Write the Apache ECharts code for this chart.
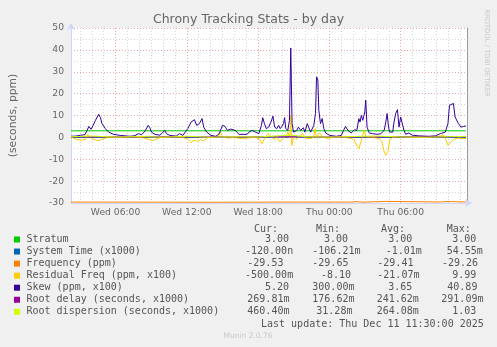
<!DOCTYPE html>
<html>
<head>
<meta charset="utf-8">
<script src="https://cdn.jsdelivr.net/npm/echarts@6/dist/echarts.min.js"></script>
<style>
html, body { margin: 0; padding: 0; background: #F0F0F0; }
#chart { width: 497px; height: 347px; }
</style>
</head>
<body>
<div id="chart"></div>
<script>
// Time runs in hours counted from Wed 00:00 (Thu 00:00 = 24).
const startHour = 2.25;     // Wed 02:15
const endHour = 35.5833;    // Thu 11:35
const majorHours = [6, 12, 18, 24, 30];
const tickLabels = ['Wed 06:00', 'Wed 12:00', 'Wed 18:00', 'Thu 00:00', 'Thu 06:00'];
const yMin = -30, yMax = 50, yStep = 10;

// [hour, value]
const stratum = [[2.25, 3], [35.5, 3]];

const systemTime = [
  [2.25, 0.0], [5, 0.02], [10, -0.01], [15, 0.01], [20.75, 0.055], [20.9, -0.106],
  [26, 0.01], [30, -0.02], [35.5, 0.0]
];

const frequency = [
  [2.25, -29.58], [8, -29.6], [14, -29.65], [20, -29.58], [25.9, -29.58],
  [26.0, -29.35], [26.17, -29.35], [26.33, -29.6], [26.83, -29.6],
  [26.92, -29.26], [28.75, -29.26], [28.83, -29.55], [33.33, -29.55],
  [33.42, -29.3], [33.83, -29.3], [33.92, -29.53], [35.5, -29.53]
];

const residualFreq = [
  [2.25, 0.3], [2.5, -0.5], [2.83, -1.1], [3.17, -1.3], [3.5, -0.8], [3.67, 1.4],
  [3.83, 1.0], [4.0, -0.6], [4.33, -1.2], [4.58, -1.5], [4.92, -0.8], [5.17, -0.2],
  [5.83, 0.1], [6.67, 0.0], [7.5, 0.2], [8.33, -0.2], [8.92, -1.1], [9.17, -1.5],
  [9.5, -0.6], [9.83, 0.0], [10.83, 0.2], [11.67, 0.0], [12.08, -0.8], [12.33, -2.4],
  [12.58, -1.4], [12.92, -1.8], [13.17, -1.0], [13.42, -1.6], [13.75, -0.2],
  [14.33, 0.2], [14.67, 0.5], [14.83, 2.4], [15.0, 0.3], [15.42, -0.3], [16.0, 0.0],
  [16.67, -0.7], [17.08, -0.3], [17.67, 0.0], [18.08, -0.5], [18.33, -2.9],
  [18.58, 0.0], [18.83, 1.7], [19.08, 0.5], [19.33, -1.0], [19.58, 0.2], [19.83, -2.1],
  [20.08, -0.5], [20.33, 0.4], [20.5, 2.4], [20.67, 0.0], [20.75, 9.99], [20.83, -3.7],
  [21.0, 0.5], [21.25, -0.8], [21.5, 0.5], [21.75, 1.7], [22.0, -0.4], [22.5, -0.5],
  [22.67, 0.0], [22.79, 4.0], [22.92, 0.0], [23.17, 2.0], [23.42, 0.3], [23.75, -0.5],
  [24.33, 0.0], [25.0, 0.2], [25.67, -0.3], [26.08, -1.0], [26.33, -4.0], [26.5, -5.2],
  [26.67, -1.5], [26.92, 3.3], [27.08, 0.2], [27.67, 0.0], [28.17, -0.5], [28.42, -2.0],
  [28.58, -6.0], [28.75, -8.1], [28.92, -6.5], [29.08, -1.0], [29.33, 0.0], [30.0, 0.4],
  [30.83, 0.2], [31.67, 0.0], [32.5, 0.3], [33.33, 0.6], [33.58, 1.2], [33.83, -1.5],
  [34.0, -3.7], [34.17, -2.5], [34.42, -1.0], [34.83, -0.3], [35.25, -0.5], [35.5, -0.5]
];

const skew = [
  [2.25, 0.5], [2.67, 0.6], [3.08, 1.0], [3.42, 1.2], [3.61, 3.2], [3.75, 5.0],
  [3.94, 3.7], [4.11, 5.5], [4.31, 7.8], [4.58, 10.6], [4.73, 9.0], [4.86, 6.3],
  [5.0, 6.6], [5.14, 4.0], [5.42, 2.4], [5.83, 1.4], [6.39, 0.9], [7.22, 0.5],
  [7.64, 0.8], [7.92, 1.7], [8.19, 1.2], [8.48, 2.9], [8.75, 5.5], [8.89, 4.4],
  [9.03, 2.4], [9.31, 1.4], [9.73, 1.0], [9.94, 2.0], [10.14, 3.2], [10.28, 1.7],
  [10.56, 0.9], [11.11, 0.6], [11.39, 1.7], [11.67, 0.9], [12.08, 4.0], [12.36, 7.0],
  [12.64, 8.1], [12.83, 5.5], [13.06, 6.3], [13.28, 8.6], [13.42, 4.7], [13.67, 2.4],
  [14.03, 0.9], [14.44, 0.5], [14.73, 1.7], [15.0, 5.5], [15.22, 5.0], [15.42, 3.2],
  [15.69, 3.8], [15.83, 4.0], [16.08, 3.2], [16.39, 1.4], [17.08, 1.4], [17.23, 2.4],
  [17.5, 3.2], [17.78, 2.4], [18.06, 1.7], [18.28, 5.5], [18.39, 9.0], [18.53, 6.3],
  [18.69, 4.0], [18.89, 4.7], [19.08, 7.0], [19.25, 9.7], [19.39, 4.7], [19.58, 4.0],
  [19.73, 5.5], [19.86, 4.0], [20.0, 5.0], [20.14, 6.3], [20.23, 9.0], [20.33, 4.0],
  [20.5, 3.2], [20.64, 7.8], [20.75, 40.89], [20.86, 6.3], [20.98, 2.4], [21.25, 3.2],
  [21.39, 4.7], [21.58, 3.2], [21.81, 4.4], [21.94, 2.4], [22.14, 6.3], [22.25, 4.7],
  [22.42, 2.4], [22.69, 5.5], [22.83, 10.9], [22.92, 27.7], [23.03, 26.2], [23.11, 12.4],
  [23.25, 6.3], [23.39, 8.6], [23.53, 4.0], [23.69, 2.0], [24.03, 0.9], [24.58, 0.5],
  [25.0, 0.9], [25.19, 3.2], [25.36, 5.0], [25.56, 3.2], [25.83, 2.0], [26.11, 3.5],
  [26.31, 3.2], [26.48, 8.6], [26.58, 7.0], [26.69, 10.1], [26.81, 7.8], [26.98, 11.6],
  [27.06, 17.0], [27.17, 4.7], [27.36, 2.0], [27.64, 1.7], [28.06, 1.4], [28.33, 1.7],
  [28.61, 3.2], [28.75, 7.0], [28.86, 10.9], [28.98, 4.7], [29.08, 2.4], [29.33, 2.4],
  [29.44, 7.0], [29.58, 10.9], [29.73, 12.7], [29.86, 4.7], [30.0, 9.3], [30.14, 8.6],
  [30.28, 3.2], [30.42, 1.4], [30.69, 2.0], [30.83, 2.4], [30.97, 1.0], [31.53, 0.7],
  [32.36, 0.5], [32.92, 0.7], [33.33, 1.7], [33.75, 2.4], [33.98, 6.3], [34.11, 14.7],
  [34.44, 15.5], [34.58, 9.3], [34.73, 8.6], [34.86, 6.3], [35.08, 4.7], [35.28, 5.0],
  [35.5, 5.2]
];

const rootDelay = [
  [2.25, 0.25], [6, 0.22], [10, 0.27], [14, 0.2], [18, 0.25], [20.75, 0.29],
  [24, 0.18], [28, 0.24], [32, 0.26], [35.5, 0.27]
];

const rootDispersion = [
  [2.25, 0.3], [4, 0.6], [6, 0.15], [8, 0.4], [10, 0.1], [12, 0.5], [14, 0.05],
  [16, 0.3], [18, 0.2], [20.75, 1.03], [22, 0.3], [24, 0.1], [26, 0.4], [28, 0.6],
  [30, 0.2], [32, 0.05], [34, 0.3], [35.5, 0.46]
];

const seriesNames = [
  'Stratum', 'System Time (x1000)', 'Frequency (ppm)', 'Residual Freq (ppm, x100)',
  'Skew (ppm, x100)', 'Root delay (seconds, x1000)', 'Root dispersion (seconds, x1000)'
];
const seriesColors = ['#00CC00', '#0066B3', '#FF8000', '#FFCC00', '#330099', '#990099', '#CCFF00'];
const seriesData = [stratum, systemTime, frequency, residualFreq, skew, rootDelay, rootDispersion];

const columnHeaders = ['Cur:', 'Min:', 'Avg:', 'Max:'];
const curValues = ['3.00', '-120.00n', '-29.53', '-500.00m', '5.20', '269.81m', '460.40m'];
const minValues = ['3.00', '-106.21m', '-29.65', '-8.10', '300.00m', '176.62m', '31.28m'];
const avgValues = ['3.00', '-1.01m', '-29.41', '-21.07m', '3.65', '241.62m', '264.08m'];
const maxValues = ['3.00', '54.55m', '-29.26', '9.99', '40.89', '291.09m', '1.03'];
const lastUpdate = 'Last update: Thu Dec 11 11:30:00 2025';

// Left edges of each legend cell (header first, then one per row)
const cellLeft = [
  [254, 265, 245, 247.3, 245, 265, 247.3, 247.3],
  [316, 324, 312.3, 312.3, 321, 312.3, 312.3, 316.3],
  [381, 388.3, 385.7, 377.3, 377.3, 388.3, 376.7, 376.7],
  [446.7, 452.3, 446.7, 442, 452.3, 447.3, 441.3, 452.3]
];

const minorHours = [];
for (let h = Math.ceil(startHour); h <= Math.floor(endHour); h++) {
  if (majorHours.indexOf(h) < 0) minorHours.push(h);
}

const mono = '"DejaVu Sans Mono", monospace';
const sans = '"DejaVu Sans", sans-serif';
const legendFill = '#555';
const rowTop = 239.5, rowStep = 12.05;

const graphics = [];
const columns = [curValues, minValues, avgValues, maxValues];
columnHeaders.forEach((hdr, c) => {
  graphics.push({ type: 'text', x: cellLeft[c][0], y: 229,
    style: { text: hdr, font: '10px ' + mono, fill: legendFill, verticalAlign: 'middle' } });
});
seriesNames.forEach((name, i) => {
  const y = rowTop + i * rowStep;
  graphics.push({ type: 'rect', shape: { x: 14, y: y - 3, width: 6, height: 6 },
    style: { fill: seriesColors[i] } });
  graphics.push({ type: 'text', x: 26.5, y: y,
    style: { text: name, font: '10px ' + mono, fill: legendFill, verticalAlign: 'middle' } });
  columns.forEach((col, c) => {
    graphics.push({ type: 'text', x: cellLeft[c][i + 1], y: y,
      style: { text: col[i], font: '10px ' + mono, fill: legendFill, verticalAlign: 'middle' } });
  });
});
graphics.push({ type: 'text', x: 261, y: 324,
  style: { text: lastUpdate, font: '10px ' + mono, fill: legendFill, verticalAlign: 'middle' } });
graphics.push({ type: 'text', x: 248, y: 336,
  style: { text: 'Munin 2.0.76', font: '7.5px ' + sans, fill: '#c8c8c8', align: 'center', verticalAlign: 'middle' } });
graphics.push({ type: 'text', x: 487, y: 53, rotation: -Math.PI / 2,
  style: { text: 'RRDTOOL / TOBI OETIKER', font: '6.8px ' + sans, fill: '#c8c8c8', align: 'center', verticalAlign: 'middle' } });

const chart = echarts.init(document.getElementById('chart'), null, { renderer: 'canvas' });

const minorGrid = { color: '#d4d4d4', type: [1, 2], width: 1 };
const majorGrid = { color: '#eba9a9', type: [1, 2], width: 1 };

chart.setOption({
  animation: false,
  backgroundColor: '#F0F0F0',
  title: {
    text: 'Chrony Tracking Stats - by day',
    left: 'center', top: 12.5, padding: 0,
    textStyle: { fontFamily: sans, fontSize: 12.5, lineHeight: 14, fontWeight: 'normal', color: '#666' }
  },
  grid: {
    left: 67, top: 28, width: 400, height: 175,
    show: true, backgroundColor: '#ffffff', borderWidth: 0
  },
  xAxis: [
    {
      type: 'value', min: startHour, max: endHour, position: 'bottom',
      axisLine: { show: true, onZero: false, lineStyle: { color: '#CFD6F8', width: 1 },
        symbol: ['none', 'arrow'], symbolSize: [6, 7], symbolOffset: [0, 5] },
      axisTick: { show: false, customValues: minorHours },
      axisLabel: { show: false },
      splitLine: { show: true, lineStyle: minorGrid }
    },
    {
      type: 'value', min: startHour, max: endHour, position: 'bottom', offset: 0,
      axisLine: { show: false },
      axisTick: { show: false, customValues: majorHours },
      axisLabel: {
        show: true, customValues: majorHours, margin: 5,
        fontFamily: sans, fontSize: 9.2, color: '#666',
        formatter: v => tickLabels[majorHours.indexOf(v)]
      },
      splitLine: { show: true, lineStyle: majorGrid }
    }
  ],
  yAxis: [
    {
      type: 'value', min: yMin, max: yMax, interval: yStep,
      name: '(seconds, ppm)', nameLocation: 'middle', nameGap: 52, nameRotate: 90,
      nameTextStyle: { fontFamily: sans, fontSize: 10.8, color: '#666' },
      axisLine: { show: true, lineStyle: { color: '#CFD6F8', width: 1 },
        symbol: ['none', 'arrow'], symbolSize: [6, 7], symbolOffset: [0, 5] },
      axisTick: { show: false },
      axisLabel: { fontFamily: sans, fontSize: 9.2, color: '#666', margin: 7 },
      splitLine: { show: true, lineStyle: majorGrid },
      minorTick: { show: false, splitNumber: 2 },
      minorSplitLine: { show: true, lineStyle: minorGrid }
    },
    {
      type: 'value', min: yMin, max: yMax, position: 'right',
      axisLine: { show: true, lineStyle: { color: '#9a9a9a', width: 1 } },
      axisTick: { show: false }, axisLabel: { show: false }, splitLine: { show: false }
    }
  ],
  graphic: graphics,
  series: seriesNames.map((name, i) => ({
    name: name,
    type: 'line',
    xAxisIndex: 0,
    yAxisIndex: 0,
    data: seriesData[i],
    showSymbol: false,
    symbol: 'none',
    lineStyle: { color: seriesColors[i], width: 1 },
    itemStyle: { color: seriesColors[i] },
    z: 2 + i
  }))
});
</script>
</body>
</html>
